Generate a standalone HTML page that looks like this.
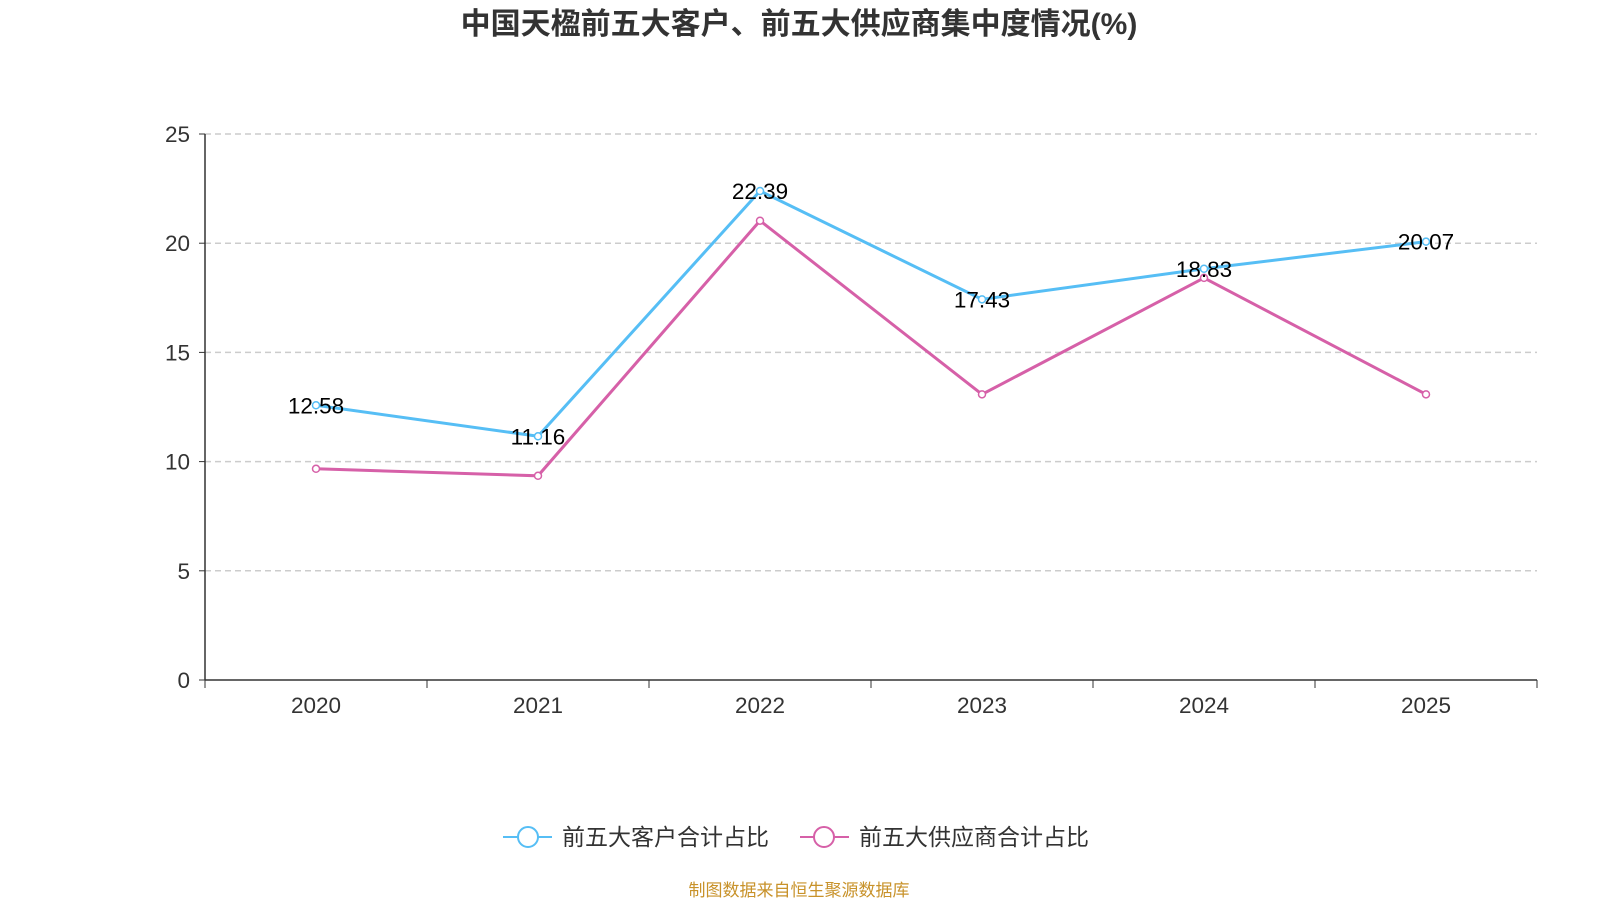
<!DOCTYPE html>
<html><head><meta charset="utf-8"><style>
body{margin:0;background:#fff;width:1600px;height:900px;overflow:hidden;font-family:"Liberation Sans","Noto Sans CJK SC",sans-serif}
</style></head><body>
<svg width="1600" height="900" id="svg" font-family="Liberation Sans, Noto Sans CJK SC, sans-serif">
<text x="799" y="34" text-anchor="middle" font-size="30" font-weight="bold" fill="#333">中国天楹前五大客户、前五大供应商集中度情况(%)</text>
<g id="grid"></g><g id="axes"></g><g id="series"></g>
<g>
<g>
<line x1="503" y1="837" x2="552" y2="837" stroke="#56bef5" stroke-width="2"/><circle cx="528" cy="837" r="10" fill="#fff" stroke="#56bef5" stroke-width="2"/>
<text x="562" y="845" font-size="23" fill="#333">前五大客户合计占比</text></g>
<g>
<line x1="800" y1="837" x2="849" y2="837" stroke="#d660a8" stroke-width="2"/><circle cx="824" cy="837" r="10" fill="#fff" stroke="#d660a8" stroke-width="2"/>
<text x="859" y="845" font-size="23" fill="#333">前五大供应商合计占比</text></g>
</g>
<text x="799" y="896" text-anchor="middle" font-size="17" fill="#c8922a">制图数据来自恒生聚源数据库</text>
</svg>
<script>
const categories=["2020","2021","2022","2023","2024","2025"];
const customers=[12.58,11.16,22.39,17.43,18.83,20.07];
const suppliers=[9.67,9.35,21.03,13.08,18.41,13.08];
const yTicks=[0,5,10,15,20,25];
const NS="http://www.w3.org/2000/svg";
const x0=205,x1=1537,y0=680,y1=134,yMax=25;
const band=(x1-x0)/categories.length;
const X=i=>x0+band*(i+0.5);
const Y=v=>y0-(v/yMax)*(y0-y1);
function mk(tag,attrs,parent,text){const e=document.createElementNS(NS,tag);for(const k in attrs)e.setAttribute(k,attrs[k]);if(text!=null)e.textContent=text;document.getElementById(parent).appendChild(e);return e;}
yTicks.forEach(t=>{
 if(t>0){const g=mk('line',{x1:x0,x2:x1,y1:Y(t),y2:Y(t),stroke:'#ccc','stroke-dasharray':'6,4','stroke-width':1.5},'grid');
 
 }
 mk('line',{x1:x0-6,x2:x0,y1:Y(t),y2:Y(t),stroke:'#333'},'axes');
 const l=mk('text',{x:x0-15,y:Y(t)+8,'text-anchor':'end','font-size':22.5,fill:'#333'},'axes',t);
 
 
});
const ya=mk('line',{x1:x0,x2:x0,y1:y1,y2:y0,stroke:'#333','stroke-width':1.5},'axes');


const xa=mk('line',{x1:x0,x2:x1,y1:y0,y2:y0,stroke:'#333','stroke-width':1.5},'axes');


for(let i=0;i<=categories.length;i++)mk('line',{x1:x0+band*i,x2:x0+band*i,y1:y0,y2:y0+8,stroke:'#333'},'axes');
categories.forEach((c,i)=>{const t=mk('text',{x:X(i),y:713,'text-anchor':'middle','font-size':22.5,fill:'#333'},'axes',c);
 
 });
function draw(vals,color,name,labels){
 const p=mk('polyline',{points:vals.map((v,i)=>X(i)+','+Y(v)).join(' '),fill:'none',stroke:color,'stroke-width':3},'series');
 
 
 vals.forEach((v,i)=>{const c=mk('circle',{cx:X(i),cy:Y(v),r:3.5,fill:'#fff',stroke:color,'stroke-width':1.5},'series');
  
  
  if(labels){const t=mk('text',{x:X(i),y:Y(v)+8,'text-anchor':'middle','font-size':22.5,fill:'#000'},'series',v.toFixed(2));
   
   }});
}
draw(suppliers,'#d660a8','suppliers',false);
draw(customers,'#56bef5','customers',true);
</script>
</body></html>
